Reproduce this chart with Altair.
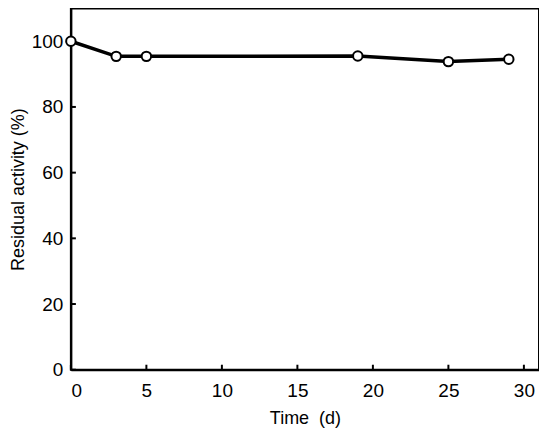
import altair as alt
import pandas as pd

days = [0, 3, 5, 19, 25, 29]
activity = [100, 95.4, 95.4, 95.5, 93.8, 94.5]
x_ticks = [0, 5, 10, 15, 20, 25, 30]
y_ticks = [0, 20, 40, 60, 80, 100]

df = pd.DataFrame({"day": days, "act": activity})
xt = pd.DataFrame({"t": x_ticks})
yt = pd.DataFrame({"t": y_ticks})

W, H = 469, 362
FONT = "Liberation Sans"

xs = alt.Scale(domain=[0, 31], nice=False, zero=False)
ys = alt.Scale(domain=[0, 110], nice=False)

xaxis = alt.Axis(values=x_ticks, ticks=False, labelPadding=12, title="Time\u00a0\u00a0(d)",
                 titlePadding=9, grid=False, domainColor="black", domainWidth=2)
yaxis = alt.Axis(values=y_ticks, ticks=False, labelPadding=8, title="Residual activity (%)",
                 titlePadding=4, grid=False, domainColor="black", domainWidth=2)

line = alt.Chart(df).mark_line(color="black", strokeWidth=3.5).encode(
    x=alt.X("day:Q", scale=xs, axis=xaxis),
    y=alt.Y("act:Q", scale=ys, axis=yaxis),
)
pts = alt.Chart(df).mark_point(filled=True, fill="white", stroke="black", strokeWidth=2,
                               size=90, opacity=1).encode(
    x=alt.X("day:Q", scale=xs),
    y=alt.Y("act:Q", scale=ys),
)
xtick = alt.Chart(xt).mark_rule(color="black", strokeWidth=2).encode(
    x=alt.X("t:Q", scale=xs), y=alt.value(H), y2=alt.value(H - 5))
ytick = alt.Chart(yt).mark_rule(color="black", strokeWidth=2).encode(
    y=alt.Y("t:Q", scale=ys), x=alt.value(0), x2=alt.value(5))

chart = alt.layer(xtick, ytick, line, pts).properties(
    width=W, height=H,
    background="white",
    autosize=alt.AutoSizeParams(type="none"),
    padding={"left": 63, "top": 0, "right": 0, "bottom": 68},
).configure_view(stroke="black", strokeWidth=2).configure_axis(
    labelFont=FONT, titleFont=FONT, labelFontSize=19, titleFontSize=18,
    labelColor="black", titleColor="black", titleFontWeight="normal",
)

chart.save("out.html", embed_options={"renderer": "svg", "actions": False})
